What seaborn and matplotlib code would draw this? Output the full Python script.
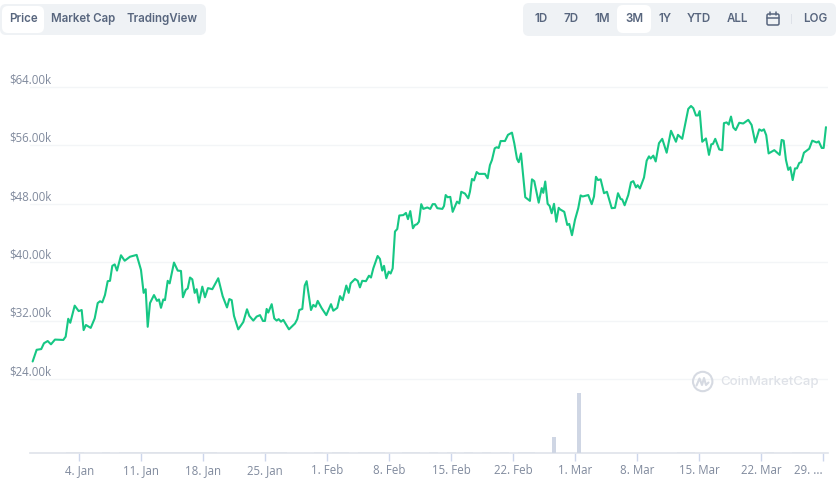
import matplotlib
matplotlib.use("Agg")
import matplotlib.pyplot as plt
from matplotlib.patches import Circle, FancyBboxPatch, Rectangle
import pandas as pd
import seaborn as sns

# day number in 2021 (1 = 1 Jan, 60 = 1 Mar)
price_days = [
    -1.29, -0.84, -0.32, -0.01, 0.41, 0.78, 1.23, 2.17, 2.44, 2.73, 2.96, 3.46, 3.91, 4.25, 4.47, 4.73, 5.27, 5.72,
    6.06, 6.32, 6.58, 6.88, 7.19, 7.45, 7.71, 7.98, 8.24, 8.69, 9.11, 9.71, 10.46, 10.95, 11.25, 11.48, 11.71, 11.97,
    12.42, 12.76, 12.98, 13.21, 13.47, 13.66, 13.97, 14.19, 14.68, 15.10, 15.47, 15.69, 16.0, 16.23, 16.49, 16.75,
    17.02, 17.24, 17.50, 17.88, 18.18, 18.52, 19.01, 19.68, 20.18, 20.67, 20.93, 21.20, 21.46, 21.94, 22.51, 22.93,
    23.19, 23.64, 24.02, 24.40, 24.73, 24.96, 25.15, 25.33, 25.72, 26.01, 26.28, 26.51, 26.77, 27.03, 27.67, 28.35,
    28.61, 28.84, 29.18, 29.45, 29.67, 30.16, 30.42, 30.69, 30.92, 31.37, 31.89, 32.42, 32.68, 33.13, 33.44, 33.74,
    34.15, 34.42, 34.64, 35.13, 35.44, 35.69, 35.95, 36.37, 36.71, 36.94, 37.20, 37.69, 37.95, 38.21, 38.41, 38.67,
    38.94, 39.16, 39.39, 39.65, 39.91, 40.14, 40.59, 40.89, 41.12, 41.38, 41.68, 41.91, 42.14, 42.36, 42.62, 42.85,
    43.30, 43.64, 43.91, 44.17, 44.43, 45.0, 45.19, 45.38, 45.60, 45.90, 46.17, 46.66, 46.92, 47.14, 47.56, 47.93,
    48.12, 48.35, 48.58, 48.88, 49.14, 49.82, 50.12, 50.38, 50.61, 50.92, 51.14, 51.37, 51.59, 52.08, 52.42, 52.87,
    53.13, 53.44, 53.63, 53.89, 54.37, 54.90, 55.13, 55.39, 55.89, 56.23, 56.41, 56.63, 56.90, 57.13, 57.36, 57.62,
    57.88, 58.15, 58.29, 58.78, 59.12, 59.34, 59.65, 59.99, 60.36, 60.63, 60.86, 61.49, 61.88, 62.14, 62.36, 62.59,
    62.89, 63.27, 63.60, 64.14, 64.51, 64.85, 65.15, 65.33, 65.60, 66.01, 66.32, 66.58, 66.88, 67.07, 67.33, 67.79,
    68.09, 68.35, 68.54, 68.84, 69.11, 69.48, 69.85, 70.35, 70.84, 71.40, 71.63, 72.11, 72.42, 72.79, 73.10, 73.36,
    73.66, 73.89, 74.08, 74.37, 74.79, 75.13, 75.39, 75.58, 75.84, 76.29, 76.63, 76.82, 77.13, 77.36, 77.62, 77.88,
    78.15, 78.55, 79.0, 79.57, 79.95, 80.36, 80.81, 81.09, 81.34, 81.60, 81.87, 82.51, 83.12, 83.34, 83.57, 83.83,
    84.09, 84.32, 84.59, 84.85, 85.07, 85.33, 85.56, 85.86, 86.46, 86.80, 87.30, 87.53, 87.87, 88.09, 88.35,
]
# price in thousand USD
prices = [
    26.4, 28.0, 28.1, 28.9, 29.2, 28.75, 29.4, 29.35, 29.8, 32.25, 31.7, 34.05, 33.3, 33.45, 30.7, 31.4, 31.0, 32.3,
    34.4, 34.65, 34.5, 35.5, 37.4, 37.45, 39.5, 39.7, 38.85, 40.95, 40.2, 40.75, 41.0, 38.95, 35.8, 36.3, 31.15, 34.4,
    35.5, 34.7, 34.9, 33.75, 34.9, 34.8, 37.45, 37.1, 39.95, 38.85, 38.8, 35.2, 36.2, 36.4, 37.9, 37.65,
    35.8, 36.3, 34.45, 36.65, 35.2, 36.45, 36.3, 37.8, 35.35, 33.8, 34.95, 34.8, 32.65, 30.8, 31.8, 33.55,
    32.65, 32.0, 32.55, 32.75, 31.95, 31.95, 33.6, 33.1, 34.25, 32.3, 32.0, 32.2, 31.85, 32.1, 30.8, 31.6,
    32.2, 33.45, 33.6, 36.8, 37.4, 33.45, 34.15, 33.9, 34.7, 33.7, 32.75, 34.25, 33.35, 33.75, 35.35, 34.8,
    36.8, 35.8, 37.1, 37.7, 37.45, 36.55, 37.45, 37.4, 38.15, 37.9, 39.15, 40.85, 40.45, 38.85, 39.5, 37.8,
    38.7, 38.45, 39.15, 44.2, 44.55, 46.4, 46.45, 46.75, 45.9, 47.0, 44.65, 45.1, 45.2, 45.55, 47.95, 47.3,
    47.5, 47.3, 47.95, 47.95, 47.4, 47.3, 47.7, 49.2, 48.9, 48.95, 46.9, 48.3, 48.05, 49.65, 49.4, 48.75,
    49.65, 51.4, 51.2, 52.35, 52.1, 52.1, 51.5, 53.3, 54.0, 55.6, 55.75, 55.65, 56.6, 56.6, 57.45, 57.75,
    56.3, 54.15, 53.7, 54.9, 48.9, 48.4, 51.35, 51.1, 48.15, 50.15, 49.5, 51.05, 48.0, 47.7, 46.7, 48.0,
    45.55, 47.45, 47.25, 46.9, 45.1, 45.25, 43.7, 45.8, 47.4, 49.15, 49.0, 49.2, 47.95, 49.0, 51.7, 51.25,
    51.35, 49.45, 49.65, 47.4, 47.45, 49.45, 48.65, 48.6, 47.8, 49.2, 50.95, 51.1, 50.25, 50.55, 50.1, 51.6,
    53.9, 54.5, 54.2, 54.6, 53.8, 56.3, 56.9, 55.0, 58.0, 56.5, 57.45, 56.9, 58.8, 61.0, 61.4, 61.1,
    60.1, 60.1, 60.7, 56.5, 56.95, 54.7, 56.15, 56.2, 56.9, 55.45, 55.35, 59.05, 59.15, 58.85, 59.95, 58.45,
    58.1, 59.1, 59.0, 59.5, 58.8, 56.4, 58.2, 58.0, 58.2, 57.4, 54.9, 55.35, 54.7, 56.75, 56.65, 54.0,
    52.65, 53.0, 51.25, 52.85, 52.85, 53.6, 53.7, 55.0, 55.55, 56.65, 56.4, 56.55, 55.65, 55.65, 58.5,
]

volume_days = [57.6, 60.4]
volumes = [93, 350]
small_volume_days = [3, 4, 7, 9, 10, 11, 12, 13, 14, 15, 16, 17, 18, 19, 25, 26, 27, 31, 33, 34, 36, 37, 38, 41, 42,
                     44, 46, 48, 50, 52, 54, 55, 72, 73, 82, 85, 86]
small_volumes = [4, 4, 3, 3, 4, 4, 4, 3, 4, 4, 3, 4, 3, 3, 4, 4, 3, 3, 3, 4, 4, 3, 3, 3, 3,
                 3, 3, 3, 3, 3, 3, 3, 3, 3, 3, 3, 3]

price_ticks = [24, 32, 40, 48, 56, 64]
price_labels = ["$24.00k", "$32.00k", "$40.00k", "$48.00k", "$56.00k", "$64.00k"]
date_ticks = [4, 11, 18, 25, 32, 39, 46, 53, 60, 67, 74, 81, 88]
date_labels = ["4. Jan", "11. Jan", "18. Jan", "25. Jan", "1. Feb", "8. Feb", "15. Feb", "22. Feb", "1. Mar",
               "8. Mar", "15. Mar", "22. Mar", "29. ..."]

left_buttons = ["Price", "Market Cap", "TradingView"]
right_buttons = ["1D", "7D", "1M", "3M", "1Y", "YTD", "ALL", "LOG"]

GREEN = "#16c784"
GRID = "#f3f5f7"
PANEL = "#eff2f5"
AXIS = "#dfe3ea"
TICK = "#ccd6eb"
LABEL = "#808a9d"
BUTTON = "#58667e"

sns.set_theme(style="white")
plt.rcParams["font.family"] = ["Inter", "DejaVu Sans"]

df = pd.DataFrame({"day": price_days, "price": prices})

fig = plt.figure(figsize=(8.4, 4.87), dpi=100)
ax = fig.add_axes([30 / 840, (487 - 452.5) / 487, 798 / 840, 392.5 / 487])

sns.lineplot(data=df, x="day", y="price", color=GREEN, linewidth=1.5, ax=ax, zorder=3)
ax.set_xlim(-1.59, 88.58)
ax.set_ylim(13.93, 67.7)
ax.set_xlabel("")
ax.set_ylabel("")

ax.set_yticks(price_ticks)
ax.set_yticklabels([])
ax.yaxis.grid(True, color=GRID, linewidth=1)
ax.tick_params(axis="y", length=0)
for value, label in zip(price_ticks, price_labels):
    ax.annotate(label, xy=(0, value), xycoords=ax.get_yaxis_transform(), xytext=(-15.1, 5.2),
                textcoords="offset points", ha="left", va="center", fontsize=8.3, color=LABEL,
                family="Open Sans", annotation_clip=False)

ax.set_xticks(date_ticks)
ax.set_xticklabels(date_labels, fontsize=8.3, color=LABEL, family="Open Sans")
ax.tick_params(axis="x", length=6, width=1, color=TICK, pad=2.5, bottom=True)
ax.get_xticklabels()[-1].set_ha("right")
sns.despine(ax=ax, left=True, top=True, right=True)
ax.spines["bottom"].set_color(AXIS)
ax.spines["bottom"].set_linewidth(1.2)

# volume sits on its own scale under the price
ax_vol = ax.twinx()
ax_vol.bar(small_volume_days, small_volumes, width=1, color=AXIS, linewidth=0)
ax_vol.bar(volume_days, volumes, width=0.45, color="#cfd6e4", linewidth=0)
ax_vol.set_ylim(0, 2290)
ax_vol.axis("off")

# buttons and watermark, in pixel coordinates of the picture
ui = fig.add_axes([0, 0, 1, 1], zorder=5)
ui.set_xlim(0, 840)
ui.set_ylim(487, 0)
ui.axis("off")
ui.patch.set_alpha(0)


def pill(x0, y0, x1, y1, color, radius=5):
    ui.add_patch(FancyBboxPatch((x0 + radius, y0 + radius), x1 - x0 - 2 * radius, y1 - y0 - 2 * radius,
                                boxstyle=f"round,pad={radius},rounding_size={radius}",
                                facecolor=color, edgecolor="none"))


pill(0, 4, 206, 35, PANEL, 6)
pill(2, 6, 44, 33, "white", 6)
pill(523, 3, 836, 36, PANEL, 6)
pill(617, 5, 651, 33, "white", 6)

for label, x in zip(left_buttons, [23, 83, 162]):
    ui.text(x, 19, label, ha="center", va="center", fontsize=8.3, fontweight="semibold", color=BUTTON)
for label, x in zip(right_buttons, [541, 571, 602, 634.5, 665, 699, 737, 815]):
    ui.text(x, 19, label, ha="center", va="center", fontsize=8.3, fontweight="semibold", color=BUTTON)

# calendar icon and separator
ui.add_patch(FancyBboxPatch((768, 15), 10, 9, boxstyle="round,pad=1,rounding_size=1.5",
                            facecolor="none", edgecolor=BUTTON, linewidth=1.1))
ui.plot([767, 779], [18, 18], color=BUTTON, linewidth=1.1)
ui.plot([770, 770], [12, 15], color=BUTTON, linewidth=1.1)
ui.plot([776, 776], [12, 15], color=BUTTON, linewidth=1.1)
ui.add_patch(Rectangle((791, 14), 1, 10, facecolor="#dde1e8", edgecolor="none"))

# watermark
ui.add_patch(Circle((702.7, 381.5), 9.7, facecolor="none", edgecolor="#d6dae2", linewidth=1.5))
ui.plot([696.5, 699.5, 702, 704, 706, 708.5], [385.5, 378.5, 385, 378, 385, 382.5], color="#d6dae2", linewidth=1.5)
ui.text(720, 382.5, "CoinMarketCap", ha="left", va="center", fontsize=9.5, fontweight="medium", color="#dfe2e8")

fig.savefig("out.png", dpi=100)
